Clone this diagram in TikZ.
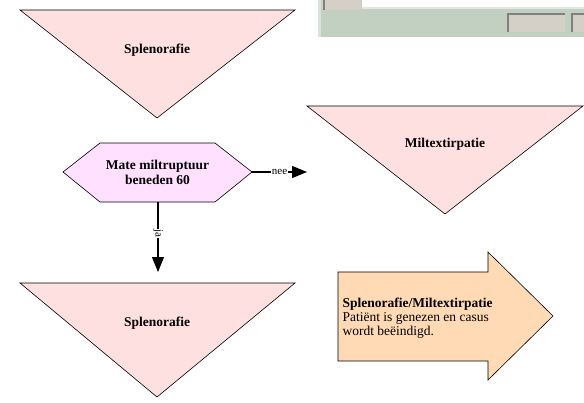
\documentclass[tikz,border=0pt]{standalone}
\usepackage{fontspec}
\setmainfont{Liberation Serif}
\usetikzlibrary{arrows.meta}
\definecolor{tri}{HTML}{FFE0E0}
\definecolor{hex}{HTML}{FFE0FF}
\definecolor{peach}{HTML}{FFDAB4}
\definecolor{panel}{HTML}{C2D0C2}
\definecolor{btn}{HTML}{D4D0C8}

\begin{document}
\begin{tikzpicture}[x=1pt,y=-1pt,
    lbl/.style={font=\fontsize{13.5}{15}\selectfont\bfseries},
    txt/.style={font=\fontsize{13.5}{14}\selectfont},
    shp/.style={draw,line width=0.6pt,line join=miter},
    arr/.style={line width=1.1pt,-{Triangle[length=15pt,width=12pt]}},
    small/.style={font=\fontsize{11}{12}\selectfont,fill=white,inner sep=0.6pt}]
      \useasboundingbox (0,0) rectangle (584,402);

      % piece of a window at the top
      \fill[panel] (318,0) rectangle (584,37);
      \fill[panel!60!white] (318,0) rectangle (321,37);
      \fill[white] (362,0) rectangle (584,7);
      \fill[panel!50!white] (362,7) rectangle (584,9);
      \fill[btn] (322,0) rectangle (361,10);
      \draw[gray,line width=1.5pt] (324,0) -- (324,10);
      \fill[btn] (508,13) rectangle (565,32);
      \draw[gray,line width=1.2pt] (508,32) -- (508,14) -- (565,14);
      \fill[btn] (572,13) rectangle (584,32);
      \draw[gray,line width=1.2pt] (572,32) -- (572,14) -- (584,14);

      \draw[shp,fill=tri] (20,10) -- (295,10) -- (157,118) -- cycle;
      \draw[shp,fill=tri] (307,106) -- (583,106) -- (445,214) -- cycle;
      \draw[shp,fill=tri] (20,283) -- (295,283) -- (157,397) -- cycle;
      \draw[shp,fill=hex] (63,172) -- (100,143) -- (215,143) -- (252,172)
        -- (215,202) -- (100,202) -- cycle;
      \draw[shp,fill=peach] (338,272) -- (488,272) -- (488,252) -- (553,316)
        -- (488,380) -- (488,361) -- (338,361) -- cycle;

      \path
      (157,50) node[lbl](splTop) {Splenorafie}
      (445,144) node[lbl](milt) {Miltextirpatie}
      (157,323) node[lbl](splBot) {Splenorafie}
      (157.5,172) node[lbl,align=center](mate) {Mate miltruptuur\\beneden 60}
      (339,318) node[txt,anchor=west,align=left](einde)
        {\textbf{Splenorafie/Miltextirpatie}\\Patiënt is genezen en casus\\wordt beëindigd.}
      ;

      \coordinate (mateR) at (252,172);
      \coordinate (mateB) at (158,202);
      \coordinate (neeEnd) at (307,172);
      \coordinate (jaEnd) at (158,272);

      \draw[arr] (mateR) to node[small]{nee} (neeEnd);
      \draw[arr] (mateB) to node[small,rotate=-90,pos=0.45]{ja} (jaEnd);
    \end{tikzpicture}
\end{document}
